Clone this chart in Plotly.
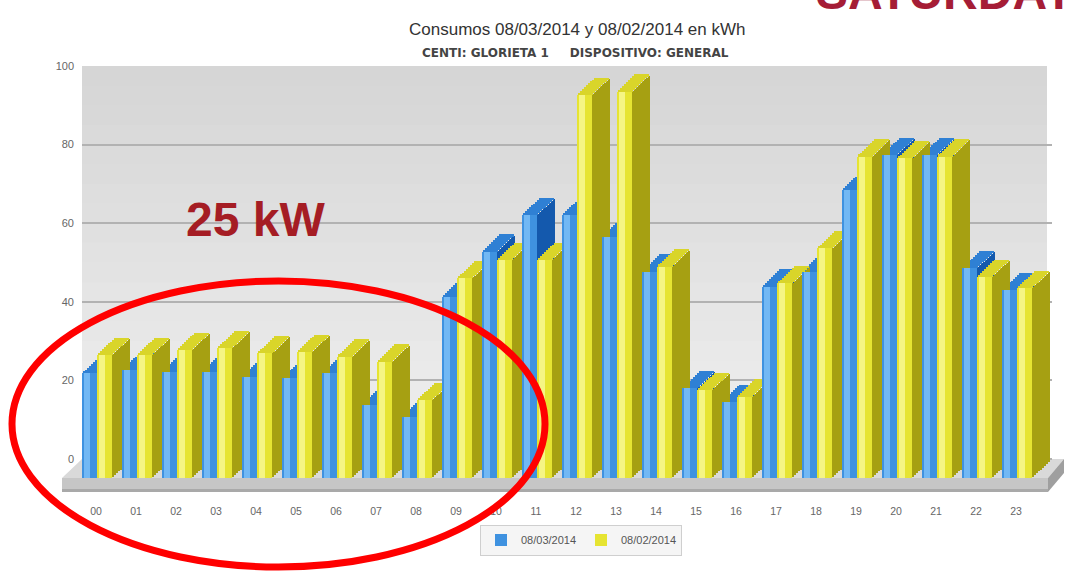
import plotly.graph_objects as go

hours = ["00", "01", "02", "03", "04", "05", "06", "07", "08", "09", "10", "11",
         "12", "13", "14", "15", "16", "17", "18", "19", "20", "21", "22", "23"]
kwh_0803 = [26.6, 27.5, 27.0, 27.0, 25.8, 25.4, 26.6, 18.6, 15.6, 46.1, 57.6, 66.9,
            66.9, 61.4, 52.5, 22.8, 19.4, 48.7, 52.5, 73.3, 82.2, 82.2, 53.4, 47.8]
kwh_0802 = [31.3, 31.3, 32.6, 33.0, 31.7, 32.1, 30.9, 29.6, 19.8, 50.8, 55.5, 55.5,
            97.5, 98.3, 53.8, 22.4, 20.7, 49.5, 58.4, 81.8, 81.3, 81.8, 51.2, 48.3]
series_names = ["08/03/2014", "08/02/2014"]
y_ticks = [0, 20, 40, 60, 80, 100]

W, H = 1066, 571
L, R, T, B = 82, 14, 66, 93          # plot area: x 82..1052, y 66..478
PW, PH = W - L - R, H - T - B
PXU = 3.93                            # pixels per kWh
FLOOR = 19 / PXU                      # depth offset between back wall and front faces


def px(x):
    return (x - L) / PW


def py(y):
    return (H - B - y) / PH


FONT = "Liberation Sans, Arial, sans-serif"
FW = 0.375           # front face width (category units)
DX = 0.45            # horizontal depth shift (category units)
DY = 17 / PXU        # vertical depth shift (kWh units)
NS = 9               # slices used to draw slanted faces

styles = [
    dict(o=-0.5, front="#3f92e0", light="#72b8f4", side="#1459ad", cap="#2f80d4"),
    dict(o=-0.125, front="#e6e432", light="#f5f584", side="#a6a012", cap="#d9d52a"),
]
data = [kwh_0803, kwh_0802]

fig = go.Figure()

# anchor trace for the back-wall value axis (invisible)
fig.add_trace(go.Scatter(x=hours[:1], y=y_ticks[:1], mode="markers",
                         marker=dict(opacity=0), showlegend=False, hoverinfo="skip"))


def add_depth(vals, st):
    o = st["o"]
    step = DX / NS
    for k in range(NS):
        lift = (k + 0.5) / NS * DY
        fig.add_trace(go.Bar(x=hours, y=vals, base=[lift] * len(vals),
                             offset=o + FW + k * step, width=step * 1.1,
                             marker_color=st["side"], marker_line_width=0,
                             yaxis="y2", showlegend=False, hoverinfo="skip"))
    for k in range(NS):
        fig.add_trace(go.Bar(x=hours, y=[DY / NS * 1.1] * len(vals),
                             base=[v + k * DY / NS for v in vals],
                             offset=o + (k + 0.5) * step, width=FW,
                             marker_color=st["cap"], marker_line_width=0,
                             yaxis="y2", showlegend=False, hoverinfo="skip"))


for vals, st in zip(data, styles):
    add_depth(vals, st)

for name, vals, st in zip(series_names, data, styles):
    o = st["o"]
    fig.add_trace(go.Bar(x=hours, y=vals, name=name, offset=o, width=FW,
                         marker_color=st["front"], marker_line_width=0, yaxis="y2"))
    fig.add_trace(go.Bar(x=hours, y=vals, offset=o + 0.04, width=0.15,
                         marker_color=st["light"], marker_line_width=0, yaxis="y2",
                         showlegend=False, hoverinfo="skip"))

shapes = []
# back wall gradient (y 66..459)
n = 20
y_top, y_bot = 66, 459
for i in range(n):
    t = i / (n - 1)
    c = int(0xd6 + (0xf0 - 0xd6) * t)
    shapes.append(dict(type="rect", xref="paper", yref="paper", x0=0, x1=px(1047),
                       y0=py(min(y_bot, y_top + (i + 1) * (y_bot - y_top) / n + 1.5)),
                       y1=py(y_top + i * (y_bot - y_top) / n), layer="below",
                       line_width=0, fillcolor=f"rgb({c},{c},{c})"))


def path(pts):
    return "M " + " L ".join(f"{px(x):.5f},{py(y):.5f}" for x, y in pts) + " Z"


# floor top face
shapes.append(dict(type="path", xref="paper", yref="paper", layer="below", line_width=0,
                   fillcolor="#d9d9d9",
                   path=path([(82, 459), (1064, 459), (1048, 478), (62, 478)])))
# slab front / right faces
shapes.append(dict(type="path", xref="paper", yref="paper", layer="below", line_width=0,
                   fillcolor="#c6c6c6",
                   path=path([(62, 478), (1048, 478), (1048, 492), (62, 492)])))
shapes.append(dict(type="path", xref="paper", yref="paper", layer="below", line_width=0,
                   fillcolor="#a9a9a9",
                   path=path([(62, 489), (1048, 489), (1048, 492), (62, 492)])))
shapes.append(dict(type="path", xref="paper", yref="paper", layer="below", line_width=0,
                   fillcolor="#9f9f9f",
                   path=path([(1048, 478), (1064, 459), (1064, 473), (1048, 492)])))
# red ellipse
shapes.append(dict(type="circle", xref="paper", yref="paper", layer="above",
                   x0=px(12), x1=px(545), y0=py(567), y1=py(281),
                   line=dict(color="#ff0000", width=7)))

annotations = [
    dict(text="Consumos 08/03/2014 y 08/02/2014 en kWh", x=px(577), y=py(18),
         xref="paper", yref="paper", showarrow=False,
         font=dict(family=FONT, size=17, color="#333333")),
    dict(text="<b>CENTI: GLORIETA 1&nbsp;&nbsp;&nbsp;&nbsp;&nbsp;DISPOSITIVO: GENERAL</b>",
         x=px(575), y=py(44), xref="paper", yref="paper", showarrow=False,
         font=dict(family="DejaVu Sans, Verdana, sans-serif", size=12, color="#444444")),
    dict(text="<b>25 kW</b>", x=px(184), y=py(220), xref="paper", yref="paper",
         xanchor="left", showarrow=False,
         font=dict(family=FONT, size=48, color="#a51d24")),
    dict(text="<b>SATURDAY</b>", x=px(814), y=py(21), xref="paper", yref="paper",
         xanchor="left", yanchor="bottom", showarrow=False,
         font=dict(family=FONT, size=48, color="#a51d36")),
]

fig.update_layout(
    width=W, height=H,
    margin=dict(l=L, r=R, t=T, b=B, autoexpand=False),
    paper_bgcolor="white", plot_bgcolor="white",
    barmode="overlay", bargap=0,
    font=dict(family=FONT, size=10, color="#666666"),
    shapes=shapes, annotations=annotations,
    legend=dict(orientation="h", x=px(581), y=py(540), xanchor="center", yanchor="middle",
                bgcolor="#f5f5f5", bordercolor="#cfcfcf", borderwidth=1,
                font=dict(family=FONT, size=11, color="#555555"),
                itemwidth=30, entrywidth=55),
    xaxis=dict(type="category", range=[-0.5, 23.75], showgrid=False, zeroline=False,
               showline=False, ticks="", ticklabelstandoff=25, ticklabelshift=-6,
               tickfont=dict(size=10.5, color="#666666"), fixedrange=True),
    yaxis=dict(range=[-FLOOR, 100], tickvals=y_ticks, showgrid=True, gridcolor="#b2b2b2",
               gridwidth=1.5, zeroline=False, showline=False, ticks="",
               ticklabelstandoff=7, tickfont=dict(size=11, color="#666666")),
    yaxis2=dict(range=[0, 100 + FLOOR], overlaying="y", visible=False),
)

fig.write_html("out.html", config={"displayModeBar": False},
               post_script="document.body.style.margin='0';")
